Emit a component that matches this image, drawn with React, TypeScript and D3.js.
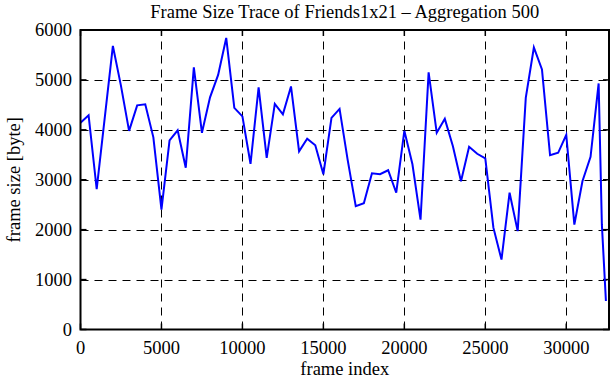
import React, { useEffect, useRef } from "react";
import * as d3 from "d3";

// frame index of each aggregated block, and its mean frame size in bytes
const frameIndex = [
  0, 500, 1000, 1500, 2000, 2500, 3000, 3500, 4000, 4500, 5000, 5500, 6000,
  6500, 7000, 7500, 8000, 8500, 9000, 9500, 10000, 10500, 11000, 11500, 12000,
  12500, 13000, 13500, 14000, 14500, 15000, 15500, 16000, 16500, 17000, 17500,
  18000, 18500, 19000, 19500, 20000, 20500, 21000, 21500, 22000, 22500, 23000,
  23500, 24000, 24500, 25000, 25500, 26000, 26500, 27000, 27500, 28000, 28500,
  29000, 29500, 30000, 30500, 31000, 31500, 32000, 32200, 32450,
];
const frameSize = [
  4140, 4290, 2810, 4250, 5680, 4880, 3980, 4490, 4510, 3850, 2400, 3790, 3990,
  3240, 5250, 3940, 4650, 5100, 5840, 4440, 4270, 3320, 4850, 3440, 4520, 4310,
  4870, 3570, 3820, 3690, 3110, 4240, 4420, 3400, 2470, 2530, 3130, 3110, 3190,
  2740, 3980, 3310, 2200, 5150, 3940, 4220, 3670, 2970, 3660, 3520, 3430, 2040,
  1400, 2740, 1970, 4640, 5650, 5210, 3490, 3540, 3900, 2100, 2970, 3460, 4930,
  2100, 570,
];
const xTicks = [0, 5000, 10000, 15000, 20000, 25000, 30000];
const yTicks = [0, 1000, 2000, 3000, 4000, 5000, 6000];
const xMax = 32640;

const title = "Frame Size Trace of Friends1x21 \u2013 Aggregation 500";

const App = () => {
  const ref = useRef<SVGSVGElement>(null);

  useEffect(() => {
    const width = 611;
    const height = 380;
    const margin = { top: 30, right: 2, bottom: 50.5, left: 80.5 };
    const svg = d3.select(ref.current);
    svg.selectAll("*").remove();

    const x = d3
      .scaleLinear()
      .domain([0, xMax])
      .range([margin.left, width - margin.right]);
    const y = d3
      .scaleLinear()
      .domain([0, 6000])
      .range([height - margin.bottom, margin.top]);

    const font = "'Liberation Serif', 'Times New Roman', serif";
    const fs = 18.5;

    // grid
    const grid = svg.append("g").attr("stroke", "#000").attr("stroke-width", 1);
    yTicks.slice(1, -1).forEach((t) => {
      grid
        .append("line")
        .attr("x1", x(0))
        .attr("x2", x(xMax))
        .attr("y1", Math.round(y(t)) + 0.5)
        .attr("y2", Math.round(y(t)) + 0.5)
        .attr("stroke-dasharray", "8,6");
    });
    xTicks.slice(1).forEach((t) => {
      grid
        .append("line")
        .attr("x1", Math.round(x(t)) + 0.5)
        .attr("x2", Math.round(x(t)) + 0.5)
        .attr("y1", y(0))
        .attr("y2", y(6000))
        .attr("stroke-dasharray", "8,6");
    });

    // tick marks, mirrored on all sides
    const ticks = svg.append("g").attr("stroke", "#000").attr("stroke-width", 1.5);
    yTicks.forEach((t) => {
      ticks.append("line").attr("x1", x(0)).attr("x2", x(0) + 6).attr("y1", y(t)).attr("y2", y(t));
      ticks.append("line").attr("x1", x(xMax)).attr("x2", x(xMax) - 6).attr("y1", y(t)).attr("y2", y(t));
    });
    xTicks.forEach((t) => {
      ticks.append("line").attr("x1", x(t)).attr("x2", x(t)).attr("y1", y(0)).attr("y2", y(0) - 6);
      ticks.append("line").attr("x1", x(t)).attr("x2", x(t)).attr("y1", y(6000)).attr("y2", y(6000) + 6);
    });

    // data line
    const line = d3
      .line<number>()
      .x((_, i) => x(frameIndex[i]))
      .y((d) => y(d));
    svg
      .append("path")
      .datum(frameSize)
      .attr("d", line)
      .attr("fill", "none")
      .attr("stroke", "#0000ff")
      .attr("stroke-width", 2)
      .attr("stroke-linejoin", "miter");

    // border
    svg
      .append("rect")
      .attr("x", x(0))
      .attr("y", y(6000))
      .attr("width", x(xMax) - x(0))
      .attr("height", y(0) - y(6000))
      .attr("fill", "none")
      .attr("stroke", "#000")
      .attr("stroke-width", 2);

    // tick labels
    const labels = svg
      .append("g")
      .attr("font-family", font)
      .attr("font-size", fs)
      .attr("fill", "#000");
    yTicks.forEach((t) => {
      labels
        .append("text")
        .attr("x", 72)
        .attr("y", y(t))
        .attr("dy", "0.35em")
        .attr("text-anchor", "end")
        .text(t);
    });
    xTicks.forEach((t) => {
      labels
        .append("text")
        .attr("x", x(t))
        .attr("y", 348)
        .attr("dy", "0.35em")
        .attr("text-anchor", "middle")
        .text(t);
    });

    labels
      .append("text")
      .attr("x", (x(0) + x(xMax)) / 2)
      .attr("y", 369)
      .attr("dy", "0.35em")
      .attr("text-anchor", "middle")
      .text("frame index");

    labels
      .append("text")
      .attr("transform", `translate(14,${(y(0) + y(6000)) / 2}) rotate(-90)`)
      .attr("dy", "0.35em")
      .attr("text-anchor", "middle")
      .text("frame size [byte]");

    labels
      .append("text")
      .attr("x", (x(0) + x(xMax)) / 2)
      .attr("y", 12)
      .attr("dy", "0.35em")
      .attr("text-anchor", "middle")
      .text(title);
  }, []);

  return (
    <svg
      ref={ref}
      width={611}
      height={380}
      style={{ position: "absolute", left: 0, top: 0, background: "#fff" }}
    />
  );
};

export default App;
